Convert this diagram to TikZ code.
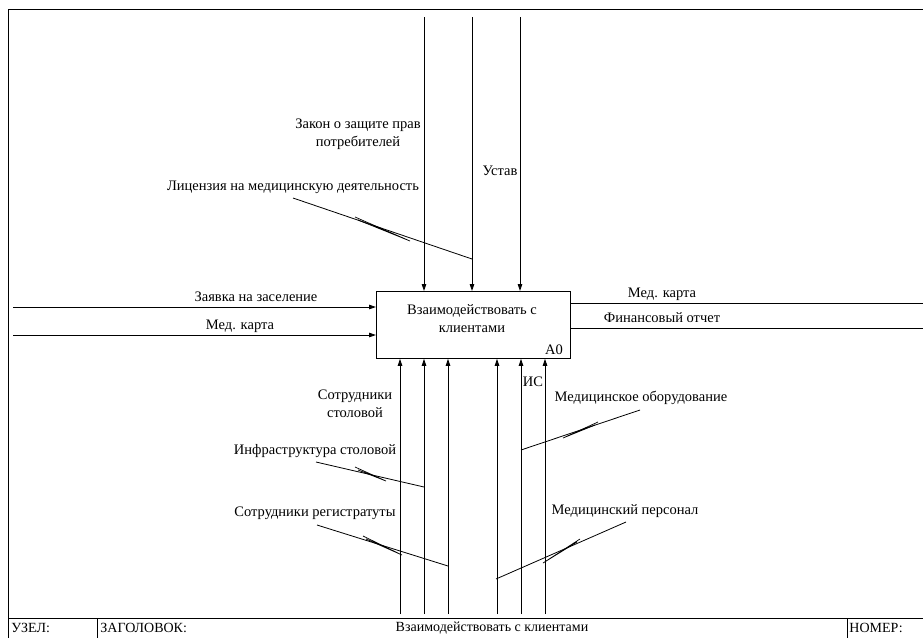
\documentclass[tikz,border=0pt]{standalone}
\usepackage{fontspec}
\setmainfont{Liberation Serif}
\usetikzlibrary{arrows.meta}
\begin{document}
\begin{tikzpicture}[x=1pt,y=-1pt, line width=0.8pt,
  arr/.style={-{Triangle[length=7pt,width=4.5pt]}},
  lbl/.style={font=\fontsize{14.5}{18}\selectfont, inner sep=0pt, align=center},
  foot/.style={font=\fontsize{14}{14}\selectfont, inner sep=0pt},
  squig/.style={line width=0.7pt, line join=miter}]
\useasboundingbox (0,0) rectangle (923,638);
% frame
\coordinate (ftr) at (923,9);
\coordinate (ftl) at (8,9);
\coordinate (fbl) at (8,638);
\draw (ftr) -- (ftl) -- (fbl);
\coordinate (hl) at (8,618);
\coordinate (hr) at (923,618);
\draw (hl) -- (hr);
\coordinate (d1t) at (97,618); \coordinate (d1b) at (97,638);
\coordinate (d2t) at (847,618); \coordinate (d2b) at (847,638);
\draw (d1t) -- (d1b);
\draw (d2t) -- (d2b);
\node[foot, anchor=west] (uzel) at (11,628) {УЗЕЛ:};
\node[foot, anchor=west] (zag) at (100,628) {ЗАГОЛОВОК:};
\node[foot] (title) at (492,628) {Взаимодействовать с клиентами};
\node[foot, anchor=west] (nomer) at (849,628) {НОМЕР:};
% box
\node[draw, minimum width=194pt, minimum height=67pt, anchor=north west, inner sep=0pt] (box) at (376,291) {};
\node[lbl] (boxtxt) at (472,319) {Взаимодействовать с\\клиентами};
\node[lbl] (a0) at (554,350) {A0};
% controls (top)
\coordinate (c1) at (424,17);
\coordinate (c2) at (472,17);
\coordinate (c3) at (520,17);
\draw[arr] (c1) -- (c1 |- box.north);
\draw[arr] (c2) -- (c2 |- box.north);
\draw[arr] (c3) -- (c3 |- box.north);
% mechanisms (bottom)
\foreach \n/\x in {m1/400, m2/424, m3/448, m4/497, m5/521, m6/545}{
  \coordinate (\n) at (\x,614);
  \draw[arr] (\n) -- (\n |- box.south);
}
% inputs
\coordinate (i1) at (13,307);
\coordinate (i2) at (13,335);
\draw[arr] (i1) -- (i1 -| box.west);
\draw[arr] (i2) -- (i2 -| box.west);
% outputs
\coordinate (o1) at (923,303);
\coordinate (o2) at (923,328);
\draw (box.east |- o1) -- (o1);
\draw (box.east |- o2) -- (o2);
% labels
\node[lbl] (lzakon) at (358,134) {Закон о защите прав\\потребителей};
\node[lbl] (lustav) at (500,171) {Устав};
\node[lbl] (llic) at (293,187) {Лицензия на медицинскую деятельность};
\node[lbl] (lzay) at (256,297) {Заявка на заселение};
\node[lbl] (lmedin) at (240,326) {Мед. карта};
\node[lbl] (lmedout) at (662,294) {Мед. карта};
\node[lbl] (lfin) at (662,318) {Финансовый отчет};
\node[lbl] (lsotst) at (355,404) {Сотрудники\\столовой};
\node[lbl] (linfra) at (315,451) {Инфраструктура столовой};
\node[lbl] (lreg) at (315,513) {Сотрудники регистратуты};
\node[lbl] (lis) at (533,382) {ИС};
\node[lbl] (lmobor) at (641,398) {Медицинское оборудование};
\node[lbl] (lmpers) at (625,511) {Медицинский персонал};
% leaders
\coordinate (k1a) at (293,198); \coordinate (k1b) at (472,259);
\draw (k1a) -- (k1b);
\draw[squig] (355,217) -- (410,241) -- (358,220);
\coordinate (k2a) at (316,462); \coordinate (k2b) at (424,487);
\draw (k2a) -- (k2b);
\draw[squig] (355,467) -- (386,481) -- (358,470);
\coordinate (k3a) at (317,525); \coordinate (k3b) at (448,566);
\draw (k3a) -- (k3b);
\draw[squig] (363,536) -- (402,555) -- (366,539);
\coordinate (k4a) at (640,410); \coordinate (k4b) at (521,450);
\draw (k4a) -- (k4b);
\draw[squig] (598,422) -- (563,438) -- (595,425);
\coordinate (k5a) at (626,522); \coordinate (k5b) at (496,579);
\draw (k5a) -- (k5b);
\draw[squig] (580,539) -- (543,563) -- (577,542);
\end{tikzpicture}
\end{document}
